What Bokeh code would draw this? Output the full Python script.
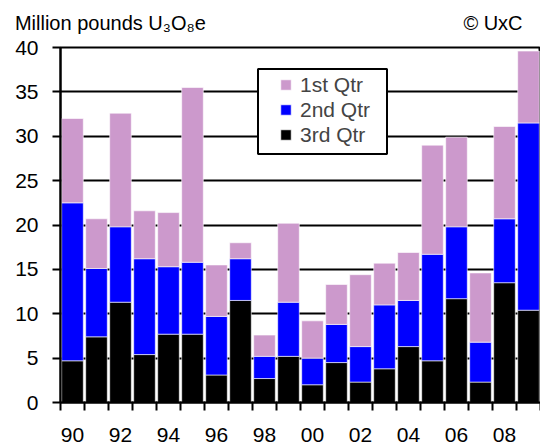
from bokeh.plotting import figure
from bokeh.models import FixedTicker, Legend, LegendItem, ColumnDataSource, BoxAnnotation, LinearAxis
from bokeh.embed import file_html
from bokeh.resources import INLINE

years = list(range(1990, 2010))
tick_years = [1990, 1992, 1994, 1996, 1998, 2000, 2002, 2004, 2006, 2008]
tick_labels = ["90", "92", "94", "96", "98", "00", "02", "04", "06", "08"]
q3 = [4.7, 7.4, 11.3, 5.4, 7.7, 7.7, 3.1, 11.5, 2.7, 5.2, 2.0, 4.5, 2.3, 3.8, 6.3, 4.7, 11.7, 2.3, 13.5, 10.4]
q2 = [17.8, 7.7, 8.5, 10.8, 7.6, 8.1, 6.6, 4.7, 2.5, 6.1, 3.0, 4.3, 4.0, 7.2, 5.2, 12.0, 8.1, 4.5, 7.2, 21.1]
q1 = [9.5, 5.6, 12.8, 5.4, 6.1, 19.7, 5.8, 1.8, 2.4, 8.9, 4.2, 4.5, 8.1, 4.7, 5.4, 12.3, 10.1, 7.8, 10.4, 8.1]
series = ["3rd Qtr", "2nd Qtr", "1st Qtr"]
colors = ["#000000", "#0000FF", "#CC99CC"]
unit_text = "Million pounds U₃O₈e"
credit_text = "© UxC"

FONT = "Liberation Sans"

src = ColumnDataSource(dict(x=years, **{"3rd Qtr": q3, "2nd Qtr": q2, "1st Qtr": q1}))

p = figure(width=540, height=447, output_backend="svg", toolbar_location=None,
           x_range=(1989.5, 2009.5), y_range=(0, 40), x_axis_location="below",
           min_border_left=60, min_border_top=47, min_border_bottom=45, min_border_right=0)

rs = p.vbar_stack(series, x="x", width=0.9, color=colors, line_color="white", line_width=0.6, source=src)

p.outline_line_color = "black"
p.outline_line_width = 2

# y axis
p.yaxis.ticker = FixedTicker(ticks=[0, 5, 10, 15, 20, 25, 30, 35, 40], minor_ticks=[])
p.yaxis.axis_line_width = 2
p.yaxis.major_tick_out = 8
p.yaxis.major_tick_in = 0
p.yaxis.major_tick_line_width = 2
p.yaxis.minor_tick_line_color = None
p.yaxis.major_label_text_font = FONT
p.yaxis.major_label_text_font_size = "21px"
p.yaxis.major_label_text_color = "black"
p.yaxis.major_label_standoff = 14

p.ygrid.grid_line_color = "black"
p.ygrid.grid_line_width = 2
p.ygrid.grid_line_alpha = 1
p.xgrid.grid_line_color = None

# x axis
bounds = [y - 0.5 for y in years] + [2009.5]
xa = p.xaxis[0]
xa.ticker = FixedTicker(ticks=tick_years, minor_ticks=bounds)
xa.major_label_overrides = {y: l for y, l in zip(tick_years, tick_labels)}
xa.axis_line_width = 2
xa.major_tick_line_color = None
xa.major_tick_out = 8
xa.major_tick_in = 0
xa.minor_tick_out = 8
xa.minor_tick_in = 0
xa.minor_tick_line_width = 2
xa.minor_tick_line_color = "black"
xa.major_label_text_font = FONT
xa.major_label_text_font_size = "21px"
xa.major_label_text_color = "black"
xa.major_label_standoff = 17

# header texts (unit at left, credit at right) as an unlined top axis
head_pos = [1991.58, 2007.52]
top = LinearAxis(ticker=FixedTicker(ticks=head_pos, minor_ticks=[]),
                 major_label_overrides={head_pos[0]: unit_text, head_pos[1]: credit_text},
                 axis_line_color=None, major_tick_line_color=None, minor_tick_line_color=None,
                 major_tick_out=0, major_tick_in=0,
                 major_label_text_font=FONT, major_label_text_font_size="20px",
                 major_label_text_color="black", major_label_standoff=14)
p.add_layout(top, "above")

# legend frame
box = BoxAnnotation(left=197.5, right=326.5, top=333.5, bottom=248.5,
                    left_units="screen", right_units="screen", top_units="screen", bottom_units="screen",
                    fill_color="white", fill_alpha=1, line_color="black", line_width=2, line_alpha=1)
p.add_layout(box)

items = [LegendItem(label=s, renderers=[r]) for s, r in zip(series[::-1], rs[::-1])]
leg = Legend(items=items, location=(219, 255), label_text_font=FONT, label_text_font_size="21px",
             glyph_width=13, glyph_height=13, label_height=25, spacing=0, padding=0, margin=0,
             border_line_color=None, background_fill_alpha=0, label_standoff=8)
p.add_layout(leg, "center")

open("out.html", "w").write(file_html(p, INLINE))
